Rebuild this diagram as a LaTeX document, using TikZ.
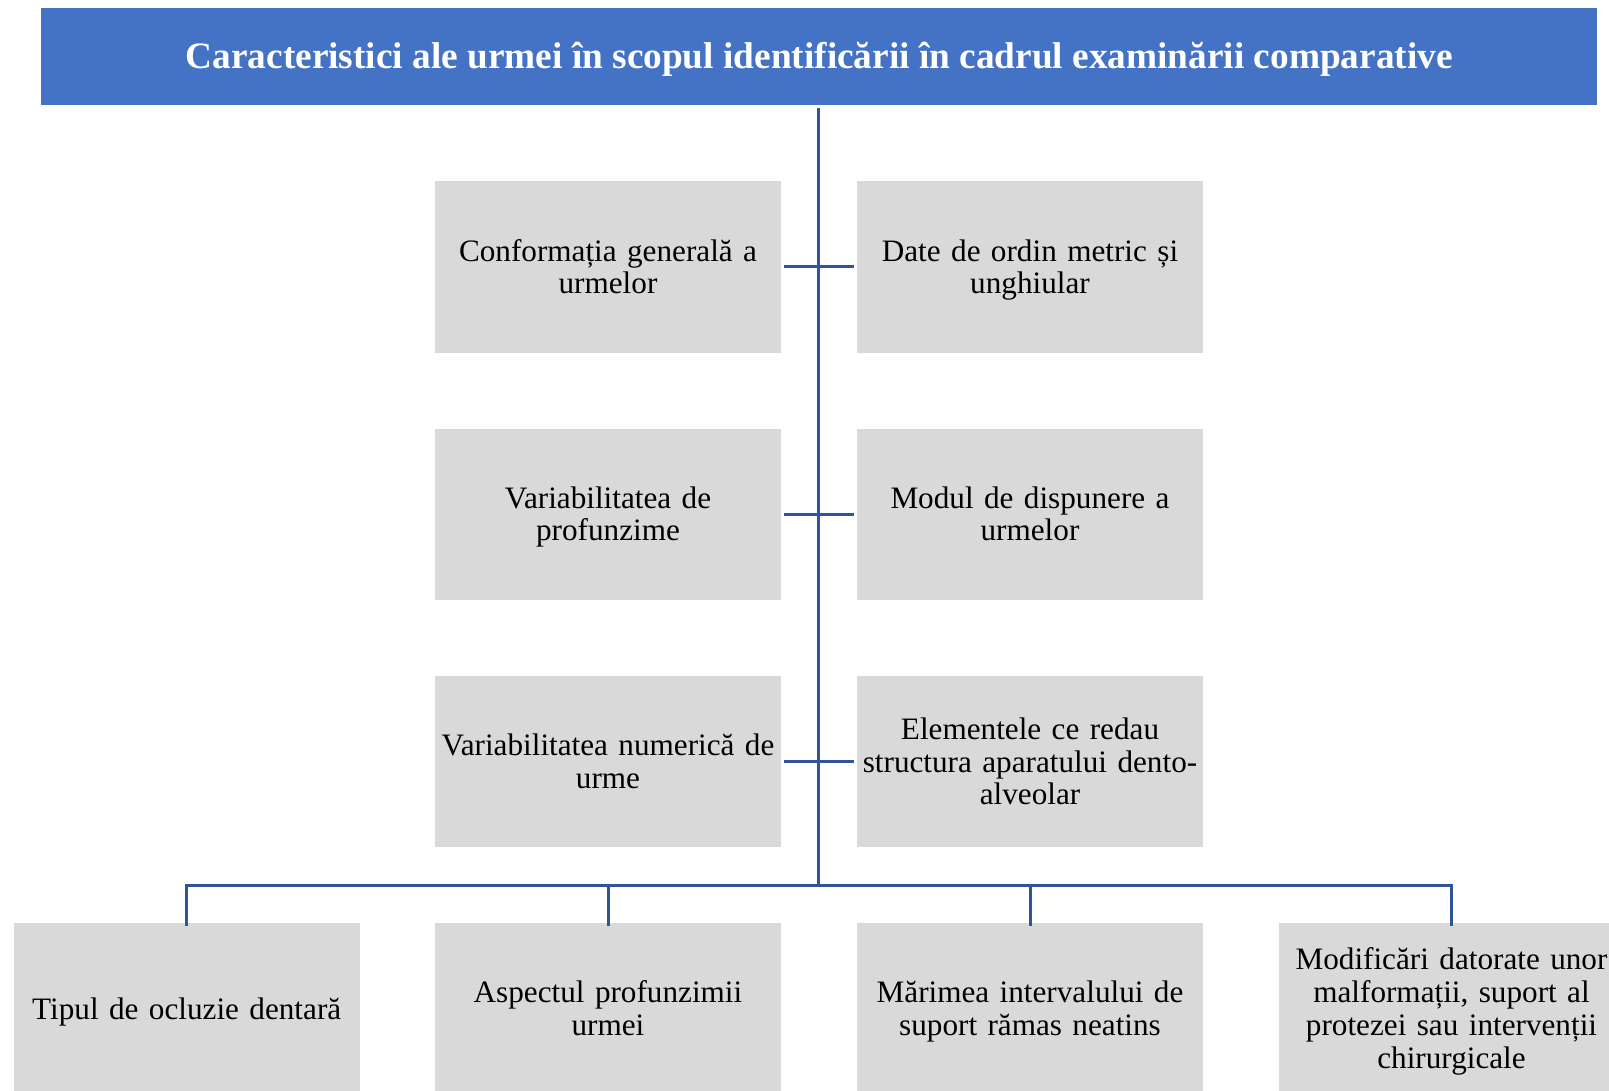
\documentclass[tikz,border=0pt]{standalone}
\usepackage{fontspec}
\setmainfont{Liberation Serif}
\definecolor{hdr}{HTML}{4472C4}
\definecolor{boxc}{HTML}{D9D9D9}
\definecolor{lnc}{HTML}{2F5597}
\begin{document}
\begin{tikzpicture}[x=1pt,y=-1pt,
  itembox/.style={fill=boxc, draw=none, minimum width=346pt, minimum height=171pt,
    inner sep=0pt, align=center, text width=346pt,
    font=\fontsize{31.2}{32.8}\selectfont,
    execute at begin node=\rule{0pt}{31pt}, execute at end node=\rule[-9.84pt]{0pt}{0pt}},
  conn/.style={draw=lnc, line width=3pt}]
\useasboundingbox (0,0) rectangle (1609,1091);
\node[fill=hdr, minimum width=1556pt, minimum height=97pt, inner sep=0pt,
  text=white, font=\fontsize{37.3}{40}\selectfont\bfseries] (header) at (819.2,56.5)
  {\raisebox{-2.5pt}[\height][\depth]{Caracteristici ale urmei în scopul identificării în cadrul examinării comparative}};
\node[itembox] (c1) at (608,267) {Conformația generală a\\urmelor};
\node[itembox] (d1) at (1030,267) {Date de ordin metric și\\unghiular};
\node[itembox] (c2) at (608,514) {Variabilitatea de\\profunzime};
\node[itembox] (d2) at (1030,514) {Modul de dispunere a\\urmelor};
\node[itembox] (c3) at (608,761.5) {Variabilitatea numerică de\\urme};
\node[itembox] (d3) at (1030,761.5) {Elementele ce redau\\structura aparatului dento-\\alveolar};
\node[itembox] (b1) at (186.7,1008.5) {Tipul de ocluzie dentară};
\node[itembox] (b2) at (608,1008.5) {Aspectul profunzimii\\urmei};
\node[itembox] (b3) at (1030,1008.5) {Mărimea intervalului de\\suport rămas neatins};
\node[itembox] (b4) at (1451.5,1008.5) {Modificări datorate unor\\malformații, suport al\\protezei sau intervenții\\chirurgicale};
\coordinate (trunktop) at (818.8,108);
\coordinate (bus) at (818.8,885.5);
\draw[conn] (trunktop) -- (bus);
\draw[conn] ([xshift=3pt]c1.east) -- ([xshift=-3pt]d1.west);
\draw[conn] ([xshift=3pt]c2.east) -- ([xshift=-3pt]d2.west);
\draw[conn] ([xshift=3pt]c3.east) -- ([xshift=-3pt]d3.west);
\draw[conn] ([yshift=-3pt]b1.north) |- (bus) -| ([yshift=-3pt]b4.north);
\draw[conn] (bus -| b2.north) -- ([yshift=-3pt]b2.north);
\draw[conn] (bus -| b3.north) -- ([yshift=-3pt]b3.north);
\end{tikzpicture}
\end{document}
